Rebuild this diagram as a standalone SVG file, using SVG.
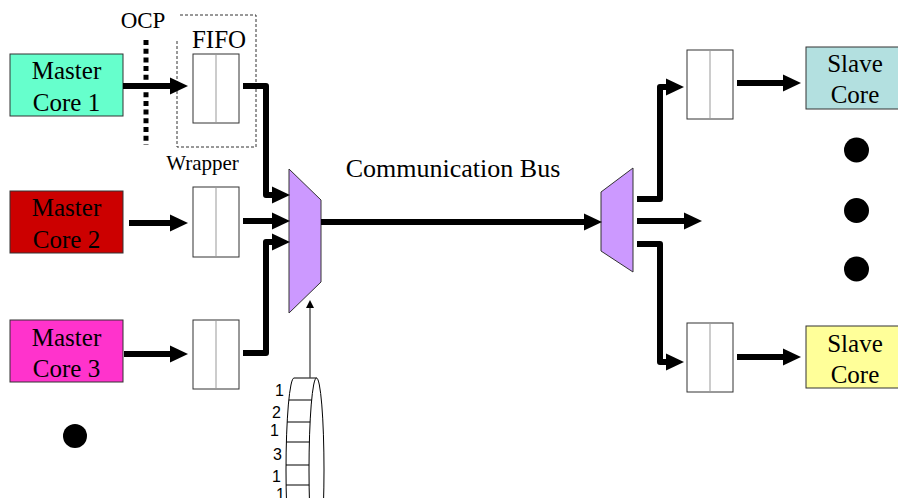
<svg xmlns="http://www.w3.org/2000/svg" width="898" height="498" viewBox="0 0 898 498">
  <defs>
    <marker id="head" markerUnits="userSpaceOnUse" markerWidth="18" markerHeight="18" refX="0" refY="9" orient="auto" overflow="visible">
      <path d="M0,0.5 L18,9 L0,17.5 Z" fill="#000"/>
    </marker>
    <marker id="thinhead" markerUnits="userSpaceOnUse" markerWidth="8" markerHeight="8" refX="0" refY="4" orient="auto" overflow="visible">
      <path d="M0,0 L8,4 L0,8 Z" fill="#000"/>
    </marker>
    <style>
      .lbl { font-family: "Liberation Serif", "Times New Roman", serif; fill: #000; text-anchor: middle; }
      .num { font-family: "Liberation Sans", Arial, sans-serif; fill: #000; stroke: none; text-anchor: end; }
      .core { stroke: #333; stroke-width: 1; }
      .fifo rect { fill: #fff; stroke: #333; stroke-width: 1; }
      .fifo line { stroke: #999; stroke-width: 1; }
      .mux { fill: #cc99ff; stroke: #333; stroke-width: 1; }
      .bus { fill: none; stroke: #000; stroke-width: 6; stroke-linejoin: round; marker-end: url(#head); }
      .dot { fill: #000; }
    </style>
  </defs>
  <rect width="898" height="498" fill="#fff"/>

  <!-- master cores -->
  <g id="master1">
    <rect class="core" x="10" y="54" width="113" height="62" fill="#66ffcc"/>
    <text class="lbl" x="66.5" y="79" font-size="25">Master</text>
    <text class="lbl" x="66.5" y="111" font-size="25">Core 1</text>
  </g>
  <g id="master2">
    <rect class="core" x="10" y="191" width="113" height="62" fill="#cc0000"/>
    <text class="lbl" x="66.5" y="216" font-size="25">Master</text>
    <text class="lbl" x="66.5" y="248" font-size="25">Core 2</text>
  </g>
  <g id="master3">
    <rect class="core" x="10" y="320" width="113" height="62" fill="#ff33cc"/>
    <text class="lbl" x="66.5" y="346" font-size="25">Master</text>
    <text class="lbl" x="66.5" y="377" font-size="25">Core 3</text>
  </g>
  <g id="more-masters">
    <circle class="dot" cx="75" cy="436" r="12"/>
  </g>

  <!-- OCP interface and wrapper -->
  <g id="ocp">
    <line x1="146" y1="40" x2="146" y2="145" stroke="#000" stroke-width="5" stroke-dasharray="5 3.7"/>
    <text class="lbl" x="143" y="28" font-size="23">OCP</text>
  </g>
  <g id="wrapper">
    <path d="M180,15 H256 V147 H177 V40" fill="none" stroke="#333" stroke-width="1" stroke-dasharray="3 2"/>
    <text class="lbl" x="219" y="48" font-size="25">FIFO</text>
    <text class="lbl" x="202.5" y="170" font-size="21">Wrapper</text>
  </g>

  <!-- FIFOs -->
  <g id="fifo1" class="fifo">
    <rect x="193" y="54" width="46" height="69"/>
    <line x1="216" y1="54" x2="216" y2="123"/>
  </g>
  <g id="fifo2" class="fifo">
    <rect x="193" y="187" width="46" height="70"/>
    <line x1="216" y1="187" x2="216" y2="257"/>
  </g>
  <g id="fifo3" class="fifo">
    <rect x="193" y="320" width="46" height="69"/>
    <line x1="216" y1="320" x2="216" y2="389"/>
  </g>
  <g id="fifo4" class="fifo">
    <rect x="687" y="50" width="46" height="69"/>
    <line x1="710" y1="50" x2="710" y2="119"/>
  </g>
  <g id="fifo5" class="fifo">
    <rect x="687" y="323" width="46" height="69"/>
    <line x1="710" y1="323" x2="710" y2="392"/>
  </g>

  <!-- multiplexer / demultiplexer -->
  <g id="mux">
    <polygon class="mux" points="289,169 321,200 321,282 289,313"/>
  </g>
  <g id="demux">
    <polygon class="mux" points="601,192 633,168 633,272 601,251"/>
  </g>

  <text class="lbl" x="453" y="177" font-size="26">Communication Bus</text>

  <!-- slave cores -->
  <g id="slave1">
    <rect class="core" x="806" y="47" width="94" height="62" fill="#b3e0e0"/>
    <text class="lbl" x="855" y="72" font-size="25">Slave</text>
    <text class="lbl" x="855" y="103" font-size="25">Core</text>
  </g>
  <g id="slave2">
    <rect class="core" x="806" y="326" width="94" height="62" fill="#ffff99"/>
    <text class="lbl" x="855" y="352" font-size="25">Slave</text>
    <text class="lbl" x="855" y="383" font-size="25">Core</text>
  </g>
  <g id="more-slaves">
    <circle class="dot" cx="856.5" cy="150" r="12.5"/>
    <circle class="dot" cx="856.5" cy="210.5" r="12.5"/>
    <circle class="dot" cx="856.5" cy="269" r="12.5"/>
  </g>

  <!-- arbitration wheel -->
  <g id="wheel" fill="none" stroke="#000" stroke-width="1">
    <path d="M294,378 A8,92 0 0 0 294,562"/>
    <ellipse cx="316.5" cy="470" rx="7.5" ry="92"/>
    <line x1="294" y1="378" x2="316.5" y2="378"/>
    <line x1="288.8" y1="400" x2="311.6" y2="400"/>
    <line x1="287.2" y1="422" x2="310.1" y2="422"/>
    <line x1="286.4" y1="442" x2="309.4" y2="442"/>
    <line x1="286" y1="465" x2="309" y2="465"/>
    <line x1="286.1" y1="485" x2="309.1" y2="485"/>
  </g>
  <g id="wheel-slots" font-size="16">
    <text class="num" x="284" y="396">1</text>
    <text class="num" x="281" y="418">2</text>
    <text class="num" x="279" y="436">1</text>
    <text class="num" x="282" y="460">3</text>
    <text class="num" x="281" y="482">1</text>
    <text class="num" x="285" y="500">1</text>
  </g>

  <!-- connectors -->
  <g id="connectors">
    <path class="bus" d="M123,86 H170"/>
    <path class="bus" d="M129,223 H170"/>
    <path class="bus" d="M124,354 H170"/>
    <path class="bus" d="M243,86 H266 V195 H272"/>
    <path class="bus" d="M243,221 H272"/>
    <path class="bus" d="M243,353 H266 V242 H272"/>
    <path class="bus" d="M321,222 H584"/>
    <path class="bus" d="M637,199 H660 V87 H666"/>
    <path class="bus" d="M637,221 H684"/>
    <path class="bus" d="M637,244 H660 V362 H666"/>
    <path class="bus" d="M737,83 H783"/>
    <path class="bus" d="M737,357 H783"/>
    <path d="M310,378 V308" fill="none" stroke="#444" stroke-width="1.3" marker-end="url(#thinhead)"/>
  </g>
</svg>
